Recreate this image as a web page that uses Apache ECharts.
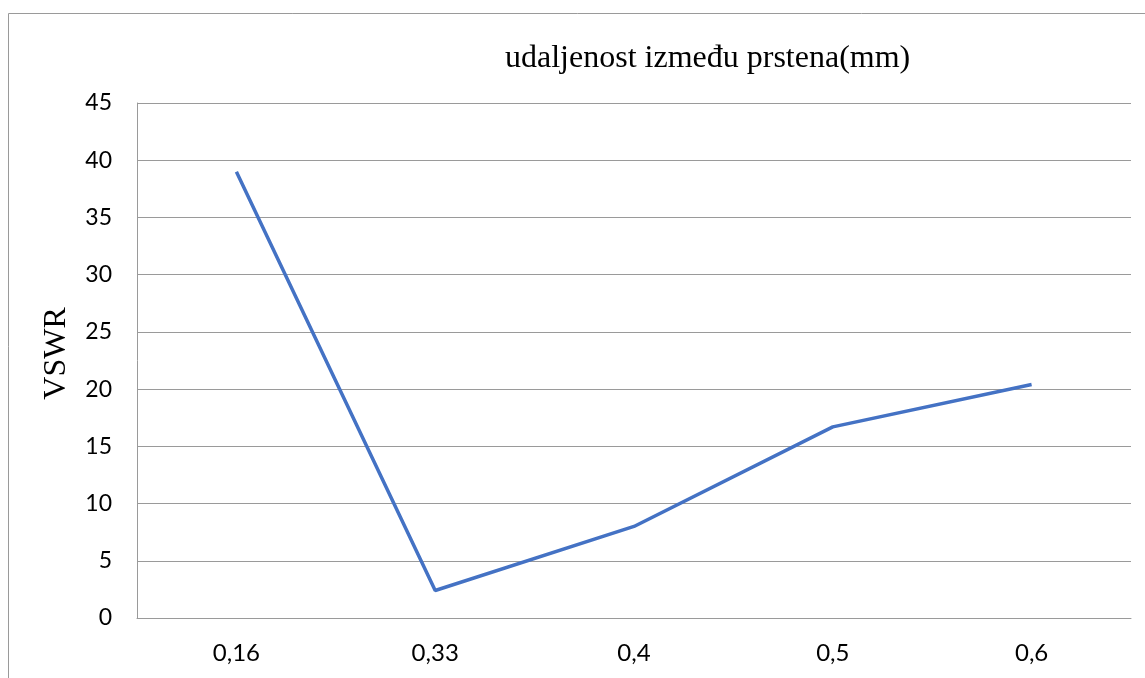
<!DOCTYPE html>
<html>
<head>
<meta charset="utf-8">
<script src="https://cdn.jsdelivr.net/npm/echarts@6/dist/echarts.min.js"></script>
<style>
  html, body { margin: 0; padding: 0; background: #fff; }
  #main { width: 1145px; height: 678px; }
</style>
</head>
<body>
<div id="main"></div>
<script>
var chart = echarts.init(document.getElementById('main'));

const categories = ['0,16', '0,33', '0,4', '0,5', '0,6'];
const vswr = [39, 2.4, 8, 16.7, 20.4];

var option = {
    animation: false,
    title: {
        text: 'udaljenost između prstena(mm)',
        left: 500,
        top: 38,
        textStyle: {
            fontFamily: 'Liberation Serif',
            fontSize: 32,
            fontWeight: 'normal',
            color: '#000'
        }
    },
    graphic: [
        {
            type: 'rect',
            shape: { x: 8.5, y: 13.5, width: 1160, height: 700 },
            style: { fill: 'none', stroke: '#9a9a9a', lineWidth: 1 },
            silent: true
        }
    ],
    grid: {
        left: 137,
        right: 14,
        top: 103,
        bottom: 60,
        containLabel: false
    },
    xAxis: {
        type: 'category',
        data: categories,
        boundaryGap: true,
        axisLine: { show: true, lineStyle: { color: '#9a9a9a', width: 1 } },
        axisTick: { show: false },
        axisLabel: {
            margin: 23,
            fontFamily: 'Lato',
            fontSize: 24,
            color: '#000'
        }
    },
    yAxis: {
        type: 'value',
        min: 0,
        max: 45,
        interval: 5,
        name: 'VSWR',
        nameLocation: 'middle',
        nameGap: 64,
        nameTextStyle: {
            fontFamily: 'Liberation Serif',
            fontSize: 32,
            color: '#000',
            padding: [0, 0, 0, 14]
        },
        axisLine: { show: true, lineStyle: { color: '#9a9a9a', width: 1 } },
        axisTick: { show: false },
        axisLabel: {
            margin: 25,
            fontFamily: 'Lato',
            fontSize: 23,
            color: '#000'
        },
        splitLine: { lineStyle: { color: '#9a9a9a', width: 1 } }
    },
    series: [
        {
            type: 'line',
            data: vswr,
            symbol: 'none',
            lineStyle: { color: '#4472C4', width: 3.5 }
        }
    ]
};

chart.setOption(option);

window.addEventListener('resize', function () {
    chart.resize();
});
</script>
</body>
</html>
